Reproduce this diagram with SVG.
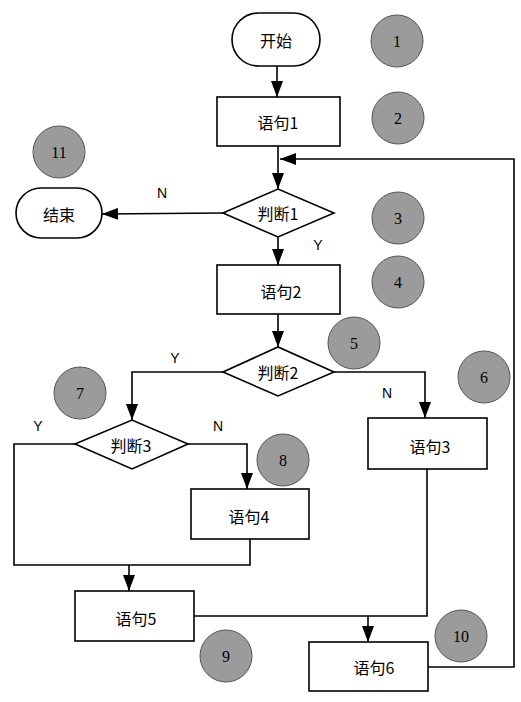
<svg xmlns="http://www.w3.org/2000/svg" width="521" height="702" viewBox="0 0 521 702">
<defs>
<marker id="ah" markerWidth="16" markerHeight="12" refX="16" refY="6" orient="auto" markerUnits="userSpaceOnUse" viewBox="0 0 16 12">
<path d="M0,0 L16,6 L0,12 Z" fill="#000"/>
</marker>
<style>
.box{fill:#fff;stroke:#000;stroke-width:1.6}
.t{font-family:"Noto Sans CJK SC","Liberation Sans",sans-serif;font-size:16px;fill:#000;text-anchor:middle;dominant-baseline:central}
.c{fill:#9b9b9b;stroke:#555;stroke-width:1}
.n{font-family:"Liberation Serif",serif;font-size:16px;fill:#000;text-anchor:middle;dominant-baseline:central}
.l{font-family:"Liberation Sans",sans-serif;font-size:14px;fill:#000;text-anchor:middle;dominant-baseline:central}
.e{fill:none;stroke:#000;stroke-width:1.6}
</style>
</defs>
<rect width="521" height="702" fill="#fff"/>
<g id="connectors">
<path class="e" d="M277,66 V97" marker-end="url(#ah)"/>
<path class="e" d="M278,146 V189" marker-end="url(#ah)"/>
<path class="e" d="M428,667 H514 V159 H280" marker-end="url(#ah)"/>
<path class="e" d="M223,213 L102,214" marker-end="url(#ah)"/>
<path class="e" d="M278,237 V265" marker-end="url(#ah)"/>
<path class="e" d="M278,314 V347" marker-end="url(#ah)"/>
<path class="e" d="M223,372 H132 V420" marker-end="url(#ah)"/>
<path class="e" d="M334,372 H425 V418" marker-end="url(#ah)"/>
<path class="e" d="M188,444 H247 V489" marker-end="url(#ah)"/>
<path class="e" d="M75,444 H14 V565 H250 V539"/>
<path class="e" d="M129,565 V591" marker-end="url(#ah)"/>
<path class="e" d="M194,616 H427 V469"/>
<path class="e" d="M368,616 V642" marker-end="url(#ah)"/>
<text class="l" x="162" y="193">N</text>
<text class="l" x="318" y="245">Y</text>
<text class="l" x="175" y="358">Y</text>
<text class="l" x="387" y="393">N</text>
<text class="l" x="38" y="426">Y</text>
<text class="l" x="218" y="426">N</text>
</g>
<g id="start"><rect class="box" x="232" y="13" width="88" height="53" rx="26.5"/><text class="t" x="276" y="40">开始</text></g>
<g id="s1"><rect class="box" x="217" y="97" width="123" height="49"/><text class="t" x="278" y="122">语句1</text></g>
<g id="d1"><polygon class="box" points="223,213 278,189 334,213 278,237"/><text class="t" x="278" y="213">判断1</text></g>
<g id="end"><rect class="box" x="16" y="188" width="86" height="50" rx="25"/><text class="t" x="59" y="214">结束</text></g>
<g id="s2"><rect class="box" x="217" y="265" width="123" height="49"/><text class="t" x="281" y="291">语句2</text></g>
<g id="d2"><polygon class="box" points="223,372 278,347 334,372 278,396"/><text class="t" x="278" y="372">判断2</text></g>
<g id="d3"><polygon class="box" points="75,444 132,420 188,444 132,469"/><text class="t" x="131" y="445">判断3</text></g>
<g id="s3"><rect class="box" x="368" y="418" width="119" height="51"/><text class="t" x="430" y="446">语句3</text></g>
<g id="s4"><rect class="box" x="191" y="489" width="118" height="50"/><text class="t" x="249" y="516">语句4</text></g>
<g id="s5"><rect class="box" x="75" y="591" width="119" height="50"/><text class="t" x="136" y="618">语句5</text></g>
<g id="s6"><rect class="box" x="309" y="642" width="119" height="49"/><text class="t" x="374" y="667">语句6</text></g>
<g id="markers">
<circle class="c" cx="397" cy="41" r="26"/><text class="n" x="397" y="41">1</text>
<circle class="c" cx="398" cy="118" r="26"/><text class="n" x="398" y="118">2</text>
<circle class="c" cx="398" cy="218" r="26"/><text class="n" x="398" y="218">3</text>
<circle class="c" cx="398" cy="282" r="26"/><text class="n" x="398" y="282">4</text>
<circle class="c" cx="354" cy="343" r="26"/><text class="n" x="354" y="343">5</text>
<circle class="c" cx="484" cy="377" r="26"/><text class="n" x="484" y="377">6</text>
<circle class="c" cx="80" cy="393" r="26"/><text class="n" x="80" y="393">7</text>
<circle class="c" cx="283" cy="460" r="26"/><text class="n" x="283" y="460">8</text>
<circle class="c" cx="226" cy="656" r="26"/><text class="n" x="226" y="656">9</text>
<circle class="c" cx="461" cy="636" r="26"/><text class="n" x="461" y="636">10</text>
<circle class="c" cx="59" cy="152" r="26"/><text class="n" x="59" y="152">11</text>
</g>
</svg>
